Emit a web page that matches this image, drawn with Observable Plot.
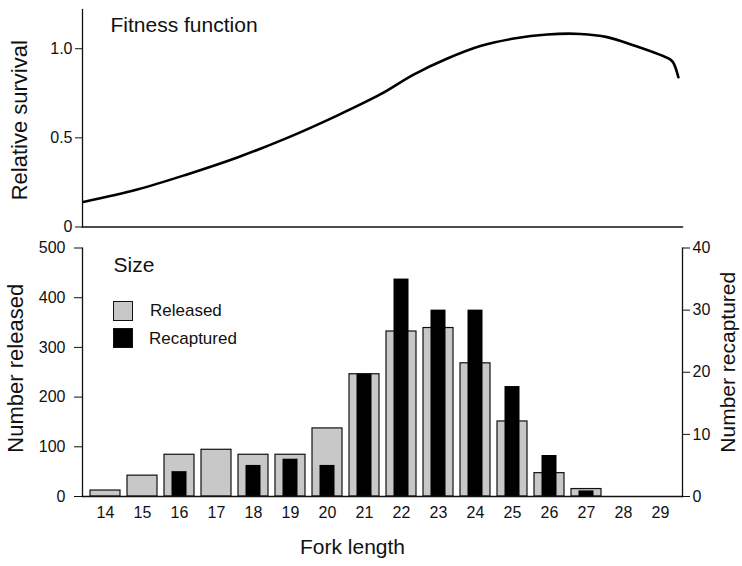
<!DOCTYPE html>
<html>
<head>
<meta charset="utf-8">
<script src="https://cdn.jsdelivr.net/npm/d3@7"></script>
<script src="https://cdn.jsdelivr.net/npm/@observablehq/plot@0.6"></script>
<style>
  html, body { margin: 0; padding: 0; background: white; }
  #wrap { position: relative; width: 742px; height: 566px; font-family: "Liberation Sans", Arial, Helvetica, sans-serif; color: #111; }
  #top, #bottom { position: absolute; left: 0; }
  #top { top: 0; }
  #bottom { top: 240px; }
  .sw { position: absolute; width: 20px; height: 20px; box-sizing: border-box; border: 1.2px solid #111; }
  .lg { position: absolute; font-size: 17px; line-height: 20px; }
</style>
</head>
<body>
<div id="wrap">
  <div id="top"></div>
  <div id="bottom"></div>
  <div class="sw" style="left:113px; top:301px; background:#c8c8c8;"></div>
  <div class="sw" style="left:113px; top:328px; background:#000;"></div>
  <div class="lg" style="left:150px; top:301px;">Released</div>
  <div class="lg" style="left:149px; top:329px;">Recaptured</div>
</div>
<script>
// Fitness function
const fitLength = [13.52, 14.96, 16.29, 17.63, 18.96, 20.29, 21.45, 22.33, 23.23, 24.11, 25.0, 25.89, 26.78, 27.49, 28.11, 29.17, 29.26, 29.39];
const fitSurvival = [0.14, 0.21, 0.295, 0.39, 0.50, 0.625, 0.745, 0.855, 0.945, 1.015, 1.057, 1.08, 1.083, 1.065, 1.025, 0.94, 0.92, 0.84];
const survivalTicks = [0, 0.5, 1.0];

// Size distribution
const forkLengths = [14, 15, 16, 17, 18, 19, 20, 21, 22, 23, 24, 25, 26, 27, 28, 29];
const released = [12, 42, 84, 94, 84, 84, 137, 246, 332, 339, 268, 151, 47, 15, 0, 0];
const recaptured = [0, 0, 4, 0, 5, 6, 5, 19.7, 35, 30, 30, 17.7, 6.6, 0.9, 0, 0];
const releasedTicks = [0, 100, 200, 300, 400, 500];
const recapturedTicks = [0, 10, 20, 30, 40];

const fontFamily = '"Liberation Sans", Arial, Helvetica, sans-serif';
const ratio = 500 / 40;

const fit = fitLength.map((L, i) => ({L, s: fitSurvival[i]}));
const sizes = forkLengths.map((L, i) => ({L, released: released[i], recaptured: recaptured[i]}));

const topPlot = Plot.plot({
  width: 742, height: 240,
  marginLeft: 82, marginRight: 60, marginTop: 9, marginBottom: 13.5,
  style: {fontFamily, fontSize: "16px", color: "#111", background: "white", overflow: "visible"},
  x: {domain: [13.5, 29.5], axis: null},
  y: {domain: [0, 1.22], axis: null},
  marks: [
    Plot.frame({anchor: "left", stroke: "#111", strokeWidth: 1.3}),
    Plot.frame({anchor: "bottom", stroke: "#111", strokeWidth: 1.3}),
    Plot.axisY(survivalTicks, {tickSize: 7, tickPadding: 3, tickFormat: d => d === 0 ? "0" : d.toFixed(1), label: null, fontSize: 16}),
    Plot.line(fit, {x: "L", y: "s", curve: "catmull-rom", stroke: "#000", strokeWidth: 2.6}),
    Plot.text(["Fitness function"], {text: d => d, frameAnchor: "top-left", textAnchor: "start", lineAnchor: "top", dx: 28, dy: 8, fontSize: 21, fill: "#111"}),
    Plot.text(["Relative survival"], {text: d => d, frameAnchor: "left", textAnchor: "middle", lineAnchor: "middle", rotate: -90, dx: -63, dy: 2, fontSize: 22, fill: "#111"})
  ]
});
document.getElementById("top").appendChild(topPlot);

const bottomPlot = Plot.plot({
  width: 742, height: 326,
  marginLeft: 82, marginRight: 60, marginTop: 7.5, marginBottom: 70,
  style: {fontFamily, fontSize: "16px", color: "#111", background: "white", overflow: "visible"},
  x: {type: "band", domain: forkLengths, paddingInner: 0.2, paddingOuter: 0.1, axis: null},
  y: {domain: [0, 500], axis: null},
  marks: [
    Plot.barY(sizes.filter(d => d.released > 0), {x: "L", y: "released", fill: "#c8c8c8", stroke: "#111", strokeWidth: 1.2}),
    Plot.barY(sizes.filter(d => d.recaptured > 0), {x: "L", y: d => d.recaptured * ratio, fill: "#000", insetLeft: 7.5, insetRight: 7.5}),
    Plot.frame({anchor: "left", stroke: "#111", strokeWidth: 1.3}),
    Plot.frame({anchor: "right", stroke: "#111", strokeWidth: 1.3}),
    Plot.frame({anchor: "bottom", stroke: "#111", strokeWidth: 1.3}),
    Plot.axisY(releasedTicks, {anchor: "left", tickSize: 8, tickPadding: 9, label: null, fontSize: 16}),
    Plot.axisY(recapturedTicks.map(t => t * ratio), {anchor: "right", tickSize: 7, tickPadding: 3, tickFormat: d => String(Math.round(d / ratio)), label: null, fontSize: 16}),
    Plot.axisX(forkLengths, {tickSize: 0, tickPadding: 10, label: null, fontSize: 16}),
    Plot.text(["Size"], {text: d => d, frameAnchor: "top-left", textAnchor: "start", lineAnchor: "top", dx: 31, dy: 9, fontSize: 21, fill: "#111"}),
    Plot.text(["Number released"], {text: d => d, frameAnchor: "left", textAnchor: "middle", lineAnchor: "middle", rotate: -90, dx: -67, dy: -4, fontSize: 22, fill: "#111"}),
    Plot.text(["Number recaptured"], {text: d => d, frameAnchor: "right", textAnchor: "middle", lineAnchor: "middle", rotate: -90, dx: 46, dy: -10, fontSize: 21, fill: "#111"}),
    Plot.text(["Fork length"], {text: d => d, frameAnchor: "bottom", dx: -30, dy: 57, fontSize: 21, fill: "#111"})
  ]
});
document.getElementById("bottom").appendChild(bottomPlot);
</script>
</body>
</html>
